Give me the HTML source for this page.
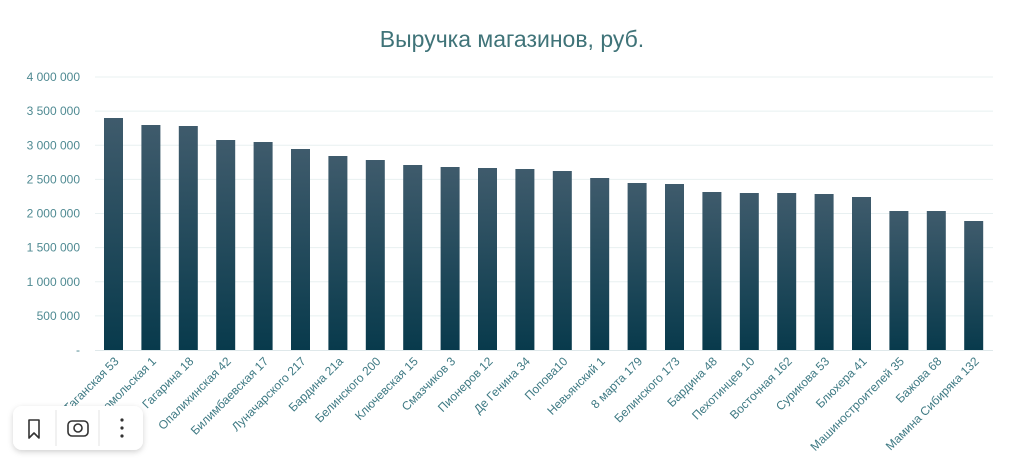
<!DOCTYPE html>
<html><head><meta charset="utf-8"><style>
body{margin:0;background:#fff;width:1024px;height:462px;overflow:hidden;font-family:"Liberation Sans",sans-serif}
</style></head><body>
<svg width="1024" height="462" xmlns="http://www.w3.org/2000/svg" font-family="Liberation Sans, sans-serif">
<defs><linearGradient id="g" x1="0" y1="0" x2="0" y2="1"><stop offset="0" stop-color="#3f5b6c"/><stop offset="1" stop-color="#083a4c"/></linearGradient>
<filter id="sh" x="-20%" y="-30%" width="140%" height="170%"><feDropShadow dx="0" dy="2" stdDeviation="3" flood-color="#000" flood-opacity="0.18"/></filter></defs>
<text x="512" y="47" text-anchor="middle" font-size="23" fill="#3f7378">Выручка магазинов, руб.</text>
<g font-size="12" fill="#4f8a92" text-anchor="end" id="ax"></g>
<g id="grid" stroke="#e8f0f1" stroke-width="1"></g>
<g id="bars"></g>
<g id="lbl" font-size="12" fill="#3f7a84" text-anchor="end"></g>
<g filter="url(#sh)"><rect x="13" y="406" width="130" height="44" rx="9" fill="#fff"/></g>
<line x1="56" y1="410" x2="56" y2="446" stroke="#e3e3e3"/><line x1="99" y1="410" x2="99" y2="446" stroke="#e3e3e3"/>
<path d="M29 420 h10 v18 l-5 -5 l-5 5 z" fill="none" stroke="#333" stroke-width="1.6" stroke-linejoin="round"/>
<rect x="68" y="421" width="20" height="15" rx="4" fill="none" stroke="#333" stroke-width="1.6"/>
<circle cx="78" cy="428" r="4" fill="none" stroke="#333" stroke-width="1.6"/>
<circle cx="122" cy="420" r="1.6" fill="#333"/><circle cx="122" cy="428" r="1.6" fill="#333"/><circle cx="122" cy="436" r="1.6" fill="#333"/>
</svg>
<script>
var ns="http://www.w3.org/2000/svg";
function el(t,a,p,txt){var e=document.createElementNS(ns,t);for(var k in a)e.setAttribute(k,a[k]);if(txt)e.textContent=txt;document.getElementById(p).appendChild(e);}
var y0=350,s=34.125;
var yl=["-","500 000","1 000 000","1 500 000","2 000 000","2 500 000","3 000 000","3 500 000","4 000 000"];
for(var i=0;i<9;i++){var y=y0-i*s;el("text",{x:80,y:y+4},"ax",yl[i]);if(i>0)el("line",{x1:95,x2:993,y1:y,y2:y},"grid");}
el("line",{x1:95,x2:993,y1:350.5,y2:350.5,stroke:"#dfe8ea"},"grid");
var tops=[118,125,126,140,142,149,156,160,165,167,168,169,171,178,183,184,192,193,193,194,197,211,211,221];
var names=["Таганская 53","Комсомольская 1","Гагарина 18","Опалихинская 42","Билимбаевская 17","Луначарского 217","Бардина 21а","Белинского 200","Ключевская 15","Смазчиков 3","Пионеров 12","Де Генина 34","Попова10","Невьянский 1","8 марта 179","Белинского 173","Бардина 48","Пехотинцев 10","Восточная 162","Сурикова 53","Блюхера 41","Машиностроителей 35","Бажова 68","Мамина Сибиряка 132"];
for(var i=0;i<24;i++){var c=113.5+i*37.4;el("rect",{x:c-9.5,y:tops[i],width:19,height:y0-tops[i],fill:"url(#g)"},"bars");
el("text",{x:c+6,y:362,transform:"rotate(-45 "+(c+6)+" 362)"},"lbl",names[i]);}
</script>
</body></html>
